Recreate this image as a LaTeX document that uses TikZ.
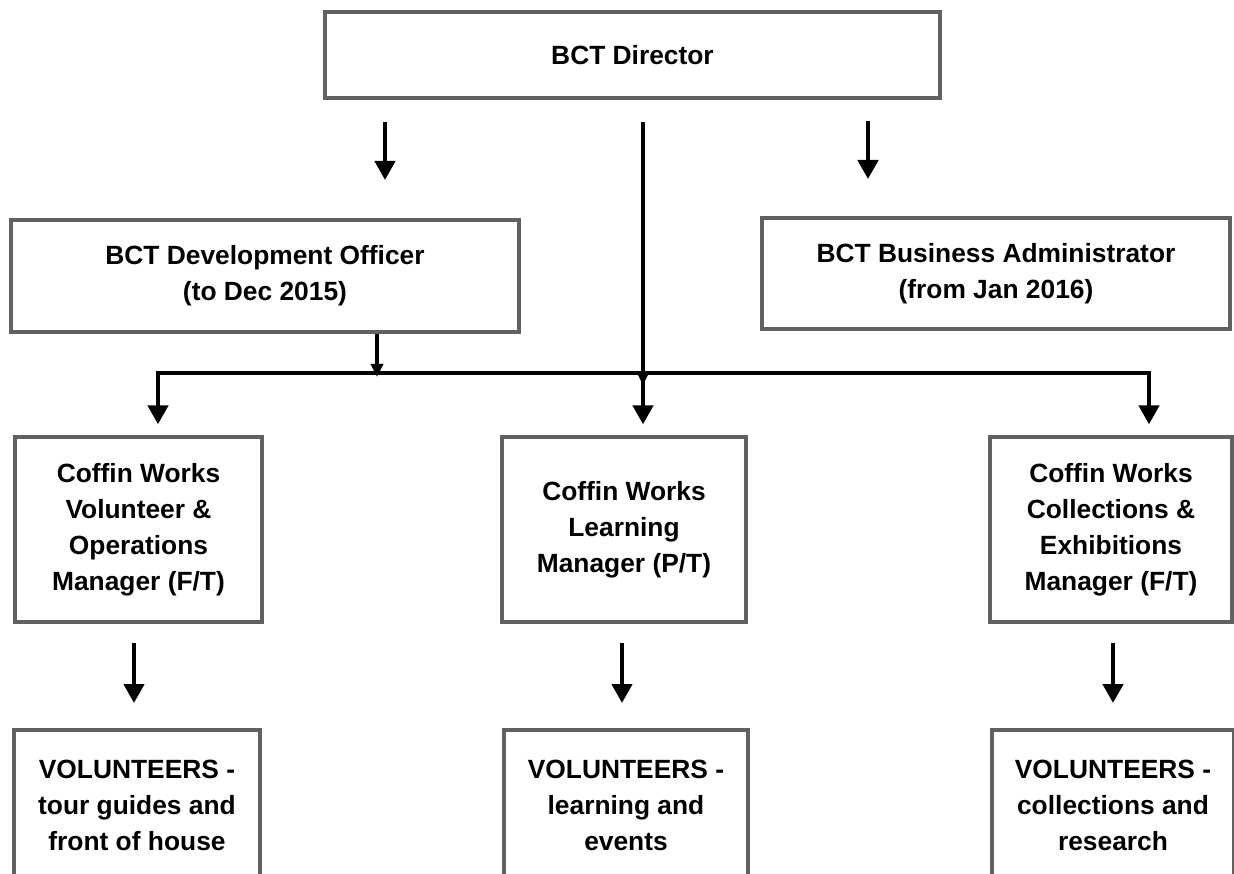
\documentclass[tikz,border=0pt]{standalone}
\usepackage{fontspec}
\setmainfont{Liberation Sans}
\usetikzlibrary{arrows.meta}

\begin{document}
\begin{tikzpicture}[
        % global: 1 unit = 1 pixel of the chart, y runs downwards
        x=0.02cm, y=-0.02cm,
        % box style: grey frame, bold centred text
        post/.style={
            draw=black!62,
            line width=1.9pt,
            align=center,
            inner sep=0pt,
            font=\fontsize{15}{20.5}\selectfont\bfseries
        },
        % arrow style: short black down arrows
        down_arrow/.style={
            draw=black,
            line width=2.5pt,
            -{Triangle[width=0.4cm,length=0.38cm]}
        },
        % small head where a line meets the bar
        join_arrow/.style={
            draw=black,
            line width=2.5pt,
            -{Triangle[width=0.24cm,length=0.26cm]}
        },
        % bar style: the thick line that joins the managers
        bar_line/.style={
            draw=black,
            line width=2.8pt,
            line cap=rect
        }
    ]
    \useasboundingbox (0,0) rectangle (1234,874);

    % ==========================
    % top: director and the two officers
    % ==========================
    % 1. boxes
    \node[post, minimum width=12.3cm, minimum height=1.72cm] (dir) at (632.5,55) {BCT Director};
    \node[post, minimum width=10.16cm, minimum height=2.24cm] (dev) at (265,276)
        {BCT Development Officer\\(to Dec 2015)};
    \node[post, minimum width=9.36cm, minimum height=2.22cm] (bus) at (996,273.5)
        {BCT Business Administrator\\(from Jan 2016)};

    % 2. free arrow ends
    \coordinate (devtop)  at (385,122);
    \coordinate (devtip)  at (385,180);
    \coordinate (bustop)  at (868,121);
    \coordinate (bustip)  at (868,179);
    \coordinate (midtop)  at (643,122);
    \coordinate (midbar)  at (643,373);
    \coordinate (devbar)  at (377,373);
    \coordinate (leftbar) at (158,373);
    \coordinate (rightbar) at (1149,373);

    % 3. arrows under the director
    \draw[down_arrow] (devtop) -- (devtip);
    \draw[down_arrow] (bustop) -- (bustip);

    % ==========================
    % middle: the three managers
    % ==========================
    % 1. boxes
    \node[post, minimum width=4.94cm, minimum height=3.7cm] (ops) at (138.5,529.5)
        {Coffin Works\\Volunteer \&\\Operations\\Manager (F/T)};
    \node[post, minimum width=4.88cm, minimum height=3.7cm] (learn) at (624,529.5)
        {Coffin Works\\Learning\\Manager (P/T)};
    \node[post, minimum width=4.84cm, minimum height=3.7cm] (coll) at (1111,529.5)
        {Coffin Works\\Collections \&\\Exhibitions\\Manager (F/T)};

    % 2. the bar and its drops
    \draw[bar_line] (leftbar) -- (rightbar);
    \draw[join_arrow] (midtop) -- ([yshift=-0.24cm]midbar);
    \draw[join_arrow] (dev.south -| devbar) -- ([yshift=-0.08cm]devbar);
    \draw[down_arrow] (leftbar) -- ([yshift=0.22cm]ops.north -| leftbar);
    \draw[down_arrow] (midbar) -- ([yshift=0.22cm]learn.north -| midbar);
    \draw[down_arrow] (rightbar) -- ([yshift=0.22cm]coll.north -| rightbar);

    % ==========================
    % bottom: volunteers
    % ==========================
    % 1. boxes
    \node[post, minimum width=4.92cm, minimum height=3.0cm] (vops) at (137,805)
        {VOLUNTEERS -\\tour guides and\\front of house};
    \node[post, minimum width=4.88cm, minimum height=3.0cm] (vlearn) at (626,805)
        {VOLUNTEERS -\\learning and\\events};
    \node[post, minimum width=4.84cm, minimum height=3.0cm] (vcoll) at (1113,805)
        {VOLUNTEERS -\\collections and\\research};

    % 2. arrows from each manager
    \foreach \m/\v/\xx in {ops/vops/134, learn/vlearn/622, coll/vcoll/1113} {
        \coordinate (\m top) at (\xx,643);
        \coordinate (\m tip) at (\xx,703);
        \draw[down_arrow] (\m top) -- (\m tip);
    }

\end{tikzpicture}
\end{document}
